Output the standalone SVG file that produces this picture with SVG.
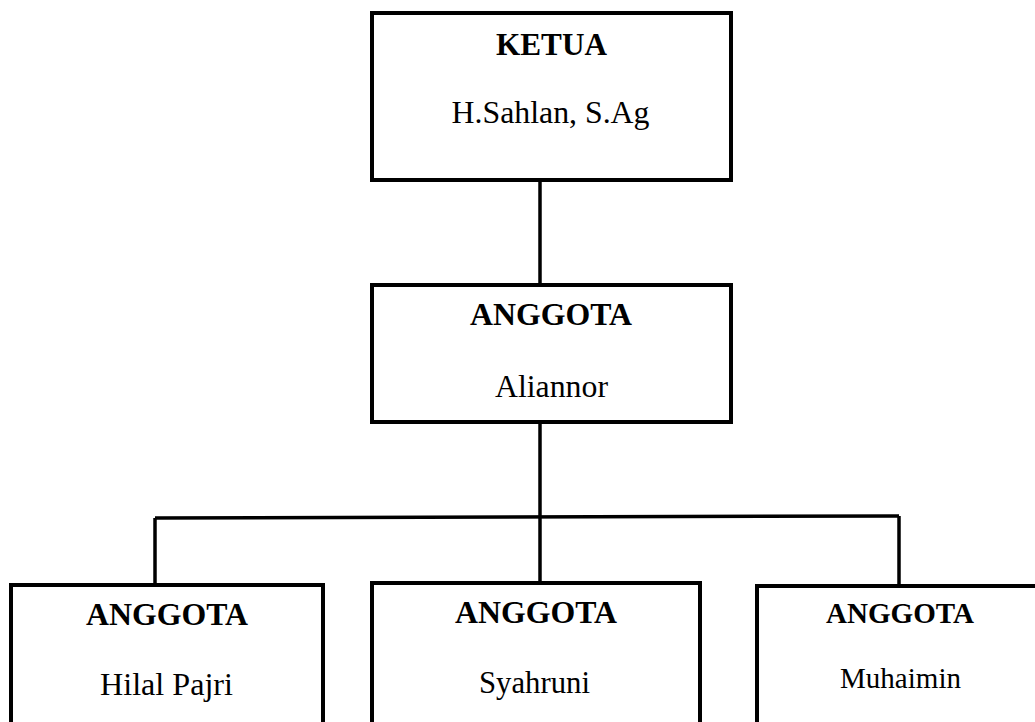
<svg xmlns="http://www.w3.org/2000/svg" width="1035" height="722" viewBox="0 0 1035 722">
<style>
.box{fill:#fff;stroke:#000;stroke-width:4}
.con{fill:none;stroke:#000;stroke-width:3.5}
.t{font-family:"Liberation Serif","Times New Roman",serif;font-size:31px;text-anchor:middle;fill:#000}
.s{font-size:29px}
.b{font-weight:bold}
</style>
<rect width="1035" height="722" fill="#fff"/>
<g id="connectors">
<line class="con" x1="540" y1="180" x2="540" y2="285"/>
<line class="con" x1="540" y1="422" x2="540" y2="583"/>
<line class="con" x1="155" y1="518" x2="899" y2="516"/>
<line class="con" x1="155" y1="518" x2="155" y2="585"/>
<line class="con" x1="899" y1="516" x2="899" y2="586"/>
</g>
<g id="ketua">
<rect class="box" x="372" y="13" width="359" height="167"/>
<text class="t b" x="551.5" y="55" textLength="111" lengthAdjust="spacingAndGlyphs">KETUA</text>
<text class="t" x="550.5" y="123" textLength="198" lengthAdjust="spacingAndGlyphs">H.Sahlan, S.Ag</text>
</g>
<g id="anggota-aliannor">
<rect class="box" x="372" y="285" width="359" height="137"/>
<text class="t b" x="551" y="325" textLength="162" lengthAdjust="spacingAndGlyphs">ANGGOTA</text>
<text class="t" x="551.5" y="397" textLength="113" lengthAdjust="spacingAndGlyphs">Aliannor</text>
</g>
<g id="anggota-hilal">
<rect class="box" x="11" y="585" width="312" height="160"/>
<text class="t b" x="167" y="625" textLength="162" lengthAdjust="spacingAndGlyphs">ANGGOTA</text>
<text class="t" x="166.5" y="695" textLength="133" lengthAdjust="spacingAndGlyphs">Hilal Pajri</text>
</g>
<g id="anggota-syahruni">
<rect class="box" x="372" y="583" width="328" height="160"/>
<text class="t b" x="536" y="623" textLength="162" lengthAdjust="spacingAndGlyphs">ANGGOTA</text>
<text class="t" x="534.5" y="693" textLength="111" lengthAdjust="spacingAndGlyphs">Syahruni</text>
</g>
<g id="anggota-muhaimin">
<rect class="box" x="757" y="586" width="290" height="160"/>
<text class="t s b" x="900" y="623" textLength="148" lengthAdjust="spacingAndGlyphs">ANGGOTA</text>
<text class="t s" x="900.5" y="688" textLength="121" lengthAdjust="spacingAndGlyphs">Muhaimin</text>
</g>
</svg>
